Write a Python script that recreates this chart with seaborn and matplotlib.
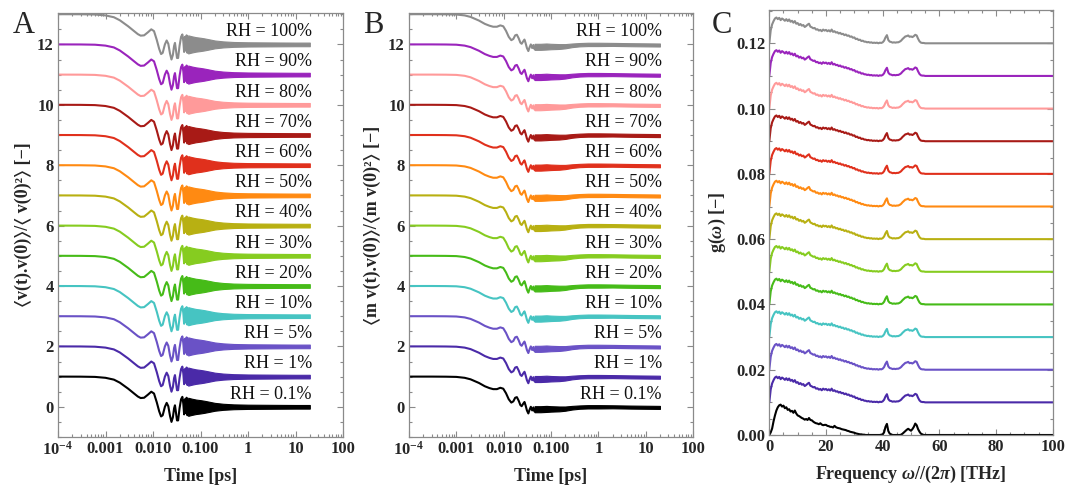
import numpy as np
import pandas as pd
import matplotlib
matplotlib.use("Agg")
import matplotlib.pyplot as plt
import seaborn as sns
from matplotlib.ticker import (LogLocator, MultipleLocator, FixedLocator,
                               FixedFormatter, NullFormatter, FormatStrFormatter)

# ---------------------------------------------------------------- data
rh_labels = ["0.1%", "1%", "5%", "10%", "20%", "30%", "40%",
             "50%", "60%", "70%", "80%", "90%", "100%"]
line_colors = ["#000000", "#4a2aa8", "#6a52c6", "#46c4c2", "#46bb18",
               "#86cc20", "#b8b012", "#ff8a12", "#e0301c", "#a81a16",
               "#ff9a9a", "#9a24bc", "#8c8c8c"]

# velocity autocorrelation (panel A), early part [ps] -> normalised value
vacf_t = [1e-4, 3e-4, 6e-4, 0.001, 0.0015, 0.002, 0.003, 0.004, 0.0048,
          0.0055, 0.0065, 0.0078, 0.0092, 0.0105, 0.012, 0.0135, 0.0148,
          0.016, 0.0178, 0.0194, 0.021, 0.0228, 0.0245, 0.0262, 0.0278,
          0.029, 0.0305, 0.032, 0.0338, 0.0362, 0.039, 0.0415, 0.0435,
          0.0452, 0.047, 0.049, 0.051, 0.053, 0.055, 0.057]
vacf_c = [1.0, 0.998, 0.99, 0.96, 0.9, 0.8, 0.6, 0.44, 0.34,
          0.29, 0.3, 0.4, 0.5, 0.44, 0.15, -0.15, -0.32,
          -0.28, 0.0, 0.13, 0.02, -0.3, -0.5, -0.35, -0.05,
          0.05, -0.2, -0.45, -0.45, -0.05, 0.25, 0.33, 0.1,
          -0.25, 0.25, -0.2, 0.3, -0.28, 0.22, -0.2]
# noisy long-time tail of panel A: half-width of the band around zero
vacf_tail_t = [0.055, 0.065, 0.08, 0.1, 0.12, 0.15, 0.2, 0.3, 0.5, 1.0,
               3.0, 10.0, 20.0]
vacf_tail_h = [0.3, 0.27, 0.24, 0.22, 0.2, 0.17, 0.13, 0.1, 0.08, 0.07,
               0.065, 0.06, 0.06]

# mass-weighted autocorrelation (panel B)
mvacf_t = [1e-4, 3e-4, 6e-4, 0.001, 0.0015, 0.002, 0.003, 0.004, 0.005,
           0.006, 0.0072, 0.0085, 0.0098, 0.0112, 0.0128, 0.0145, 0.016,
           0.0175, 0.019, 0.0208, 0.0225, 0.024, 0.0258, 0.0275, 0.029,
           0.031, 0.0332, 0.0352, 0.0375, 0.04, 0.0425, 0.045, 0.0475]
mvacf_c = [1.0, 1.0, 0.997, 0.99, 0.96, 0.91, 0.79, 0.68, 0.62,
           0.585, 0.585, 0.63, 0.6, 0.45, 0.25, 0.14, 0.18,
           0.3, 0.32, 0.2, 0.06, 0.02, 0.1, 0.16, 0.05,
           -0.12, -0.22, -0.1, 0.0, -0.12, -0.02, -0.16, -0.05]
mvacf_tail_t = [0.045, 0.06, 0.08, 0.1, 0.15, 0.2, 0.28, 0.4, 0.6, 1.0,
                2.0, 5.0, 20.0]
mvacf_tail_c = [-0.08, -0.08, -0.07, -0.07, -0.07, -0.06, -0.03, -0.01,
                0.0, 0.0, 0.0, -0.01, -0.02]
mvacf_tail_h = [0.1, 0.1, 0.1, 0.09, 0.08, 0.07, 0.06, 0.055, 0.055, 0.055,
                0.05, 0.05, 0.05]

# vibrational density of states (panel C): 0.5 THz grid up to 55 THz,
# then a flat stretch up to 100 THz
dos_f = list(np.arange(0, 55.5, 0.5)) + [60, 70, 80, 90, 100]
dos_dry = [
    0.0, 0.0008, 0.002, 0.0042, 0.006, 0.0075, 0.0085, 0.0091, 0.0093, 0.0087,
    0.009, 0.0082, 0.0085, 0.0077, 0.0079, 0.0072, 0.0074, 0.0068, 0.0075, 0.0066,
    0.006, 0.0058, 0.0055, 0.0052, 0.005, 0.0047, 0.0049, 0.0046, 0.0052, 0.0046,
    0.0045, 0.0041, 0.0038, 0.0036, 0.0035, 0.0033, 0.0036, 0.0032, 0.003, 0.0031,
    0.0031, 0.0028, 0.0027, 0.0025, 0.0025, 0.0023, 0.0028, 0.0024, 0.0022, 0.0021,
    0.002, 0.0018, 0.0017, 0.0016, 0.0015, 0.0013, 0.0012, 0.001, 0.0009, 0.0008,
    0.0007, 0.0005, 0.0004, 0.0003, 0.0002, 0.0002, 0.0001, 0.0001, 0.0, 0.0,
    0.0, 0.0, 0.0, 0.0, 0.0, 0.0, 0.0, 0.0, 0.0, 0.0001,
    0.0002, 0.0008, 0.0025, 0.0034, 0.0012, 0.0004, 0.0002, 0.0, 0.0, 0.0,
    0.0, 0.0, 0.0, 0.0001, 0.0004, 0.0008, 0.0012, 0.0016, 0.0019, 0.0016,
    0.0013, 0.0018, 0.0025, 0.0035, 0.003, 0.0018, 0.001, 0.0004, 0.0002, 0.0,
    0.0,
    0.0, 0.0, 0.0, 0.0, 0.0]
dos_wet = [
    0.0, 0.004, 0.0058, 0.0068, 0.0076, 0.0079, 0.0074, 0.0078, 0.0071, 0.0076,
    0.0073, 0.0069, 0.0074, 0.0068, 0.0073, 0.0066, 0.0069, 0.0063, 0.0068, 0.006,
    0.0062, 0.0056, 0.0059, 0.0054, 0.0056, 0.005, 0.0053, 0.0057, 0.006, 0.0051,
    0.0049, 0.0046, 0.0047, 0.0042, 0.0043, 0.0039, 0.0041, 0.0037, 0.0042, 0.0039,
    0.0041, 0.0037, 0.004, 0.0036, 0.0042, 0.0035, 0.0037, 0.0033, 0.0034, 0.003,
    0.0032, 0.0028, 0.0029, 0.0025, 0.0027, 0.0023, 0.0024, 0.002, 0.0021, 0.0017,
    0.0018, 0.0013, 0.0014, 0.001, 0.0011, 0.0007, 0.0008, 0.0005, 0.0005, 0.0003,
    0.0004, 0.0002, 0.0003, 0.0001, 0.0002, 0.0001, 0.0002, 0.0, 0.0002, 0.0001,
    0.0003, 0.0008, 0.0018, 0.0025, 0.001, 0.0005, 0.0004, 0.0002, 0.0003, 0.0002,
    0.0003, 0.0003, 0.0005, 0.0008, 0.0013, 0.0017, 0.0021, 0.0022, 0.0024, 0.002,
    0.0021, 0.0019, 0.0022, 0.0026, 0.0024, 0.0014, 0.0006, 0.0002, 0.0001, 0.0001,
    0.0,
    0.0, 0.0, 0.0, 0.0, 0.0]

# ---------------------------------------------------------------- style
sns.set_theme(style="ticks")
plt.rcParams["font.family"] = ["Liberation Serif", "STIXGeneral", "DejaVu Serif"]
plt.rcParams["font.weight"] = "bold"
plt.rcParams["axes.labelweight"] = "bold"
plt.rcParams["mathtext.fontset"] = "custom"
plt.rcParams["mathtext.rm"] = "Liberation Serif:bold"
plt.rcParams["mathtext.it"] = "Liberation Serif:italic:bold"
plt.rcParams["mathtext.bf"] = "Liberation Serif:bold"

palette = dict(zip(rh_labels, line_colors))
frame_col = "#8a8a8a"
LW = 1.5

fig = plt.figure(figsize=(10.67, 4.88), dpi=100)
axA = fig.add_axes([58 / 1067, 51 / 488, 285 / 1067, 424 / 488])
axB = fig.add_axes([409 / 1067, 51 / 488, 284 / 1067, 424 / 488])
axC = fig.add_axes([769.3 / 1067, 53 / 488, 283.4 / 1067, 425 / 488])


def style_axes(ax):
    for sp in ax.spines.values():
        sp.set_color(frame_col)
        sp.set_linewidth(0.9)
    ax.tick_params(which="both", direction="in", top=True, right=True,
                   color=frame_col, width=0.8)
    ax.tick_params(which="major", length=4, labelsize=12, pad=3)
    ax.tick_params(which="minor", length=2.2)


def stacked_frame(t, c, offset_step):
    rows = []
    for k, rh in enumerate(rh_labels):
        rows.append(pd.DataFrame({"t": t, "value": np.asarray(c) + k * offset_step,
                                  "RH": rh}))
    return pd.concat(rows, ignore_index=True)


def time_panel(ax, t, c, tail_t, tail_c, tail_h, ylabel):
    ax.set_xscale("log")
    df = stacked_frame(t, c, 1.0)
    sns.lineplot(data=df, x="t", y="value", hue="RH", hue_order=rh_labels,
                 palette=palette, estimator=None, sort=False, legend=False,
                 lw=LW, ax=ax)
    tc = np.asarray(tail_c)
    th = np.asarray(tail_h)
    for k, rh in enumerate(rh_labels):
        col = palette[rh]
        ax.fill_between(tail_t, k + tc - th, k + tc + th, color=col,
                        edgecolor=col, lw=0.8)
        ax.text(22, k + 0.42, "RH = " + rh, ha="right", va="center",
                fontsize=13, fontweight="normal", color="#111111")
    ax.set_xlim(1e-4, 100)
    ax.set_ylim(-1, 13.04)
    ax.xaxis.set_major_locator(FixedLocator([1e-4, 1e-3, 1e-2, 1e-1, 1, 10, 100]))
    ax.xaxis.set_major_formatter(FixedFormatter(
        [r"$\mathbf{10^{-4}}$", "0.001", "0.010", "0.100", "1", "10", "100"]))
    ax.xaxis.set_minor_locator(LogLocator(base=10, subs=np.arange(2, 10), numticks=20))
    ax.xaxis.set_minor_formatter(NullFormatter())
    ax.yaxis.set_major_locator(MultipleLocator(2))
    ax.yaxis.set_minor_locator(MultipleLocator(0.5))
    ax.set_xlabel("Time [ps]", fontsize=13, fontweight="bold")
    ax.set_ylabel(ylabel, fontsize=13, fontweight="bold")
    style_axes(ax)
    ax.xaxis.set_label_coords(0.5, -0.072)


time_panel(axA, vacf_t, vacf_c, vacf_tail_t, np.zeros(len(vacf_tail_t)),
           vacf_tail_h, "⟨v(t).v(0)⟩/⟨ v(0)²⟩ [−]")
axA.yaxis.set_label_coords(-0.092, 0.5)

time_panel(axB, mvacf_t, mvacf_c, mvacf_tail_t, mvacf_tail_c, mvacf_tail_h,
           "⟨m v(t).v(0)⟩/⟨m v(0)²⟩ [−]")
axB.yaxis.set_label_coords(-0.100, 0.5)

# panel C: stacked spectra
rowsC = []
for k, rh in enumerate(rh_labels):
    shape = dos_dry if k == 0 else dos_wet
    rowsC.append(pd.DataFrame({"f": dos_f, "g": np.asarray(shape) + 0.01 * k,
                               "RH": rh}))
dfC = pd.concat(rowsC, ignore_index=True)
sns.lineplot(data=dfC, x="f", y="g", hue="RH", hue_order=rh_labels,
             palette=palette, estimator=None, sort=False, legend=False,
             lw=LW, ax=axC)
axC.set_xlim(0, 100)
axC.set_ylim(0, 0.1302)
axC.xaxis.set_major_locator(MultipleLocator(20))
axC.xaxis.set_minor_locator(MultipleLocator(5))
axC.yaxis.set_major_locator(MultipleLocator(0.02))
axC.yaxis.set_minor_locator(MultipleLocator(0.005))
axC.yaxis.set_major_formatter(FormatStrFormatter("%.2f"))
axC.set_xlabel(r"Frequency $\omega$//(2$\pi$) [THz]", fontsize=13, fontweight="bold")
axC.set_ylabel(r"g($\omega$) [−]", fontsize=13, fontweight="bold")
style_axes(axC)
axC.xaxis.set_label_coords(0.5, -0.068)
axC.yaxis.set_label_coords(-0.146, 0.5)

# panel letters
for letter, xpx in (("A", 13), ("B", 363), ("C", 712)):
    fig.text(xpx / 1067, 1 - 33 / 488, letter, fontsize=22, va="baseline",
             ha="left", fontweight="normal")

fig.savefig("out.png", dpi=100)
